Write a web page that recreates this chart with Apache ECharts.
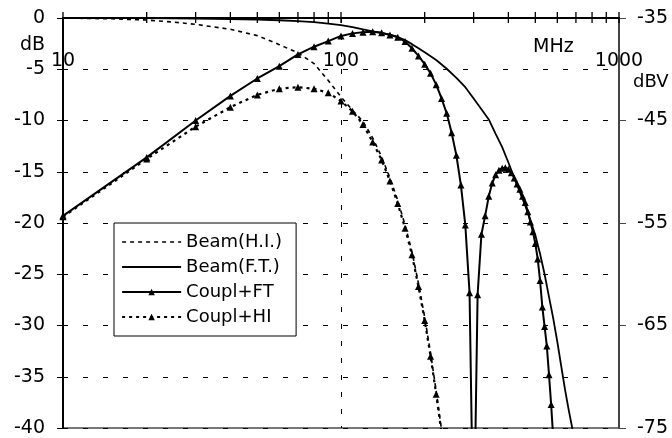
<!DOCTYPE html>
<html>
<head>
<meta charset="utf-8">
<script src="https://cdn.jsdelivr.net/npm/echarts@6/dist/echarts.min.js"></script>
<style>
html, body { margin: 0; padding: 0; background: #fff; }
#chart { width: 672px; height: 438px; }
</style>
</head>
<body>
<div id="chart"></div>
<script>
// 数据 (MHz, dB)
var beamHIFreq = [10, 15, 20, 25, 30, 40, 50, 60, 70, 80, 90, 100, 110, 120, 130, 140, 150, 160, 170, 180, 190, 200, 210, 220, 230, 240]
var beamHI = [0, -0.08, -0.2, -0.4, -0.62, -1.1, -1.72, -2.6, -3.4, -4.45, -6.1, -7.7, -9.0, -10.1, -11.7, -13.55, -15.6, -17.8, -20.2, -22.8, -25.9, -29.2, -32.7, -36.4, -40.2, -44]

var beamFTFreq = [10, 20, 30, 40, 50, 60, 70, 80, 90, 100, 110, 120, 130, 140, 150, 160, 170, 180, 190, 200, 220, 240, 260, 280, 300, 320, 340, 360, 380, 400, 420, 440, 460, 480, 500, 520, 540, 560, 580, 600, 620, 640, 660, 680, 700]
var beamFT = [0, -0.02, -0.05, -0.1, -0.15, -0.22, -0.3, -0.4, -0.55, -0.7, -0.9, -1.12, -1.3, -1.45, -1.63, -1.85, -2.15, -2.55, -2.95, -3.35, -4.1, -4.95, -5.85, -6.75, -7.85, -8.9, -9.9, -11.3, -12.6, -14.1, -15.6, -17.0, -18.3, -19.7, -21.2, -23.0, -25.0, -27.2, -29.3, -31.6, -34.0, -36.3, -38.3, -40.1, -41.8]

var couplFTFreq = [10, 20, 30, 40, 50, 60, 70, 80, 90, 100, 110, 120, 130, 140, 150, 160, 170, 180, 190, 200, 210, 220, 230, 240, 250, 260, 270, 280, 290, 300, 310, 320, 330, 340, 350, 360, 370, 380, 390, 400, 410, 420, 430, 440, 450, 460, 470, 480, 490, 500, 510, 520, 530, 540, 550, 560, 570, 580]
var couplFT = [-19.3, -13.6, -10.0, -7.6, -5.9, -4.7, -3.55, -2.8, -2.25, -1.75, -1.5, -1.38, -1.35, -1.45, -1.65, -1.88, -2.3, -2.95, -3.7, -4.5, -5.4, -6.5, -7.85, -9.3, -11.2, -13.4, -16.3, -20.2, -26.8, -52, -27.0, -21.1, -19.3, -17.4, -16.1, -15.3, -14.85, -14.65, -14.6, -14.75, -15.1, -15.6, -16.2, -16.7, -17.4, -18.0, -18.9, -19.9, -20.85, -22.0, -23.5, -25.6, -28.2, -30.1, -32.0, -34.8, -37.7, -41.0]

var couplHIFreq = [10, 20, 30, 40, 50, 60, 70, 80, 90, 100, 110, 120, 130, 140, 150, 160, 170, 180, 190, 200, 210, 220, 230, 240]
var couplHI = [-19.4, -13.75, -10.6, -8.7, -7.5, -6.9, -6.75, -6.9, -7.3, -8.1, -9.1, -10.4, -12.1, -13.85, -15.9, -18.1, -20.5, -23.1, -26.2, -29.5, -33.0, -36.7, -40.5, -44.5]

// 对数轴刻度位置
var tickFreq = [10, 20, 30, 40, 50, 60, 70, 80, 90, 100, 200, 300, 400, 500, 600, 700, 800, 900, 1000]

function pairs(xs, ys) {
    return xs.map(function(x, i) { return [x, ys[i]] })
}

var font = 'DejaVu Sans'
var dashGrid = [5, 15]

var option = {
    animation: false,
    backgroundColor: '#fff',
    textStyle: { fontFamily: font, color: '#000' },
    grid: {
        left: 63, right: 53, top: 18, bottom: 10,
        show: true,
        borderColor: '#777',
        borderWidth: 2
    },
    legend: {
        orient: 'vertical',
        left: 114,
        top: 223,
        padding: [10, 14, 10, 7],
        itemWidth: 59,
        itemHeight: 8,
        itemGap: 7,
        backgroundColor: '#fff',
        borderColor: '#000',
        borderWidth: 1,
        borderRadius: 0,
        textStyle: { fontSize: 18, fontFamily: font, color: '#000' },
        lineStyle: { width: 'inherit' },
        data: [
            { name: 'Beam(H.I.)', itemStyle: { opacity: 0 } },
            { name: 'Beam(F.T.)', itemStyle: { opacity: 0 } },
            { name: 'Coupl+FT' },
            { name: 'Coupl+HI' }
        ]
    },
    xAxis: {
        type: 'log',
        logBase: 10,
        min: 10,
        max: 1000,
        position: 'top',
        axisLine: { show: true, lineStyle: { color: '#000', width: 2 } },
        axisTick: { show: false },
        axisLabel: {
            inside: true,
            margin: 34,
            fontSize: 19,
            color: '#000',
            fontFamily: font,
            formatter: function(v) { return String(Math.round(v)) }
        },
        splitLine: { show: true, lineStyle: { color: '#000', width: 1, type: [5, 12] } }
    },
    yAxis: [{
        type: 'value',
        position: 'left',
        min: -40,
        max: 0,
        interval: 5,
        axisLine: { show: true, lineStyle: { color: '#000', width: 2 } },
        axisTick: { show: true, length: 6, lineStyle: { color: '#000' } },
        axisLabel: { margin: 18, fontSize: 19, color: '#000', fontFamily: font },
        splitLine: { show: true, lineStyle: { color: '#000', width: 1, type: dashGrid } }
    }, {
        type: 'value',
        position: 'right',
        min: -75,
        max: -35,
        interval: 10,
        axisLine: { show: true, lineStyle: { color: '#444', width: 2 } },
        axisTick: { show: true, length: 7, lineStyle: { color: '#444' } },
        axisLabel: { margin: 18, fontSize: 19, color: '#000', fontFamily: font },
        splitLine: { show: false }
    }],
    graphic: [
        { type: 'text', left: 20, top: 36, style: { text: 'dB', fontSize: 19, fontFamily: font, fill: '#000' } },
        { type: 'text', left: 533, top: 38, style: { text: 'MHz', fontSize: 19, fontFamily: font, fill: '#000' } },
        { type: 'text', left: 633, top: 73, style: { text: 'dBV', fontSize: 18, fontFamily: font, fill: '#000' } }
    ],
    series: [{
        name: 'Beam(H.I.)',
        type: 'line',
        symbol: 'none',
        data: pairs(beamHIFreq, beamHI),
        lineStyle: { color: '#000', width: 1.6, type: [4, 4] },
        itemStyle: { color: '#000' }
    }, {
        name: 'Beam(F.T.)',
        type: 'line',
        symbol: 'none',
        data: pairs(beamFTFreq, beamFT),
        lineStyle: { color: '#000', width: 1.8 },
        itemStyle: { color: '#000' }
    }, {
        name: 'Coupl+FT',
        type: 'line',
        symbol: 'triangle',
        symbolSize: 7,
        data: pairs(couplFTFreq, couplFT),
        lineStyle: { color: '#000', width: 2 },
        itemStyle: { color: '#000' }
    }, {
        name: 'Coupl+HI',
        type: 'line',
        symbol: 'triangle',
        symbolSize: 7,
        data: pairs(couplHIFreq, couplHI),
        lineStyle: { color: '#000', width: 2.2, type: [3, 4] },
        itemStyle: { color: '#000' }
    }]
}

var chart = echarts.init(document.getElementById('chart'))
chart.setOption(option)

// 顶部对数刻度线 (穿过轴线), 位置由坐标轴换算
function drawTicks() {
    var ticks = tickFreq.map(function(f) {
        var p = chart.convertToPixel({ xAxisIndex: 0, yAxisIndex: 0 }, [f, 0])
        return {
            type: 'line',
            silent: true,
            z: 100,
            shape: { x1: p[0], y1: p[1] - 6, x2: p[0], y2: p[1] + 5 },
            style: { stroke: '#000', lineWidth: 1.3 }
        }
    })
    chart.setOption({ graphic: option.graphic.concat(ticks) })
}
drawTicks()

window.addEventListener('resize', function() {
    chart.resize()
    drawTicks()
})
</script>
</body>
</html>
